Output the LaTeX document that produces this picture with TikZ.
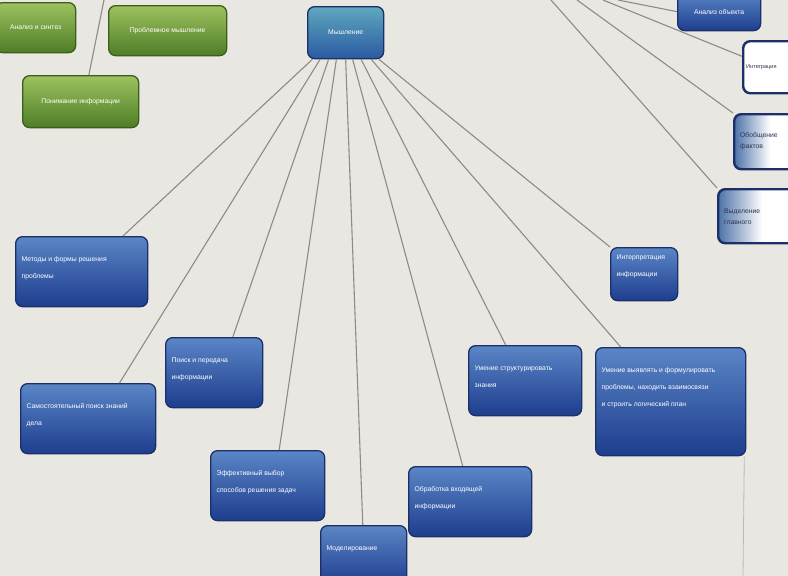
\documentclass[tikz,border=0pt]{standalone}
\usepackage{fontspec}
\setmainfont{Liberation Sans}
\usetikzlibrary{calc}
\definecolor{bg}{HTML}{E8E7E2}
\definecolor{btop}{HTML}{5A86C6}
\definecolor{bbot}{HTML}{1E3D8E}
\definecolor{bdark}{HTML}{1C2F66}
\definecolor{gtopc}{HTML}{9DC25E}
\definecolor{gbotc}{HTML}{4E7D27}
\definecolor{gdark}{HTML}{3C5E1E}
\definecolor{ctop}{HTML}{5FA8BE}
\definecolor{cbot}{HTML}{2A5AA2}
\definecolor{linec}{HTML}{8C8C84}
\definecolor{rtext}{HTML}{2E3650}
\newcommand{\mmtxt}[4]{\parbox[c][#2pt][t]{#1pt}{\raggedright\vspace*{#3pt}#4}}
\tikzset{
  box/.style={rounded corners=7pt, line width=1.3pt, text=white, inner xsep=6pt,
    inner ysep=6pt, anchor=north west, font=\fontsize{6.8}{17}\selectfont},
  bluebox/.style={box, draw=bdark, top color=btop, bottom color=bbot},
  greenbox/.style={box, draw=gdark, top color=gtopc, bottom color=gbotc, align=center},
  centerbox/.style={box, draw=bdark, top color=ctop, bottom color=cbot, align=center},
  rbox/.style={box, draw=bdark, line width=2.4pt, text=rtext, fill=white, align=left},
  rboxb/.style={rbox, left color=btop!85!black, right color=white, middle color=white},
  link/.style={draw=linec, line width=1.1pt},
  faint/.style={draw=linec!60, line width=0.8pt}
}
\begin{document}
\begin{tikzpicture}[x=1pt,y=-1pt]
\fill[bg] (0,0) rectangle (788,576);
\useasboundingbox (0,0) rectangle (788,576);

% green nodes
\node[greenbox, minimum width=80pt, minimum height=50pt] (G1) at (-5,2) {Анализ и синтез};
\node[greenbox, minimum width=118pt, minimum height=50pt] (G2) at (108,5) {Проблемное мышление};
\node[greenbox, minimum width=116pt, minimum height=52pt] (G3) at (22,75) {Понимание информации};

% centre
\node[centerbox, minimum width=76pt, minimum height=52pt] (C) at (307,6) {Мышление};

% right-hand nodes (cut off)
\node[bluebox, minimum width=83pt, minimum height=38pt, align=center] (R1) at (677,-8) {Анализ объекта};
\node[rbox, minimum width=64pt, minimum height=52pt, inner xsep=3pt, font=\fontsize{5.6}{8}\selectfont] (R2) at (742,40) {\parbox{58pt}{Интеграция}};
\node[rboxb, minimum width=72pt, minimum height=55pt] (R3) at (733,113) {\parbox{60pt}{\fontsize{6.8}{11}\selectfont Обобщение\\фактов}};
\node[rboxb, minimum width=88pt, minimum height=54pt] (R4) at (717,188) {\parbox{76pt}{\fontsize{6.8}{11}\selectfont Выделение\\главного}};

% blue nodes
\node[bluebox] (S) at (610,247) {\mmtxt{55}{41}{1}{Интерпретация\\информации}};
\node[bluebox] (L1) at (15,236) {\mmtxt{120}{58}{14}{Методы и формы решения\\проблемы}};
\node[bluebox] (M1) at (165,337) {\mmtxt{85}{58}{14}{Поиск и передача\\информации}};
\node[bluebox] (L3) at (20,383) {\mmtxt{123}{58}{14}{Самостоятельный поиск знаний\\дела}};
\node[bluebox] (M2) at (210,450) {\mmtxt{102}{58}{14}{Эффективный выбор\\способов решения задач}};
\node[bluebox] (B) at (320,525) {\mmtxt{74}{48}{14}{Моделирование}};
\node[bluebox] (M3) at (408,466) {\mmtxt{111}{58}{14}{Обработка входящей\\информации}};
\node[bluebox] (M4) at (468,345) {\mmtxt{101}{58}{14}{Умение структурировать\\знания}};
\node[bluebox] (M5) at (595,347) {\mmtxt{138}{96}{14}{Умение выявлять и формулировать\\проблемы, находить взаимосвязи\\и строить логический план}};

% fan of connectors from the centre
\path[link] ($(C.south west)!0.07!(C.south east)$) -- ($(L1.north west)!0.81!(L1.north east)$);
\path[link] ($(C.south west)!0.17!(C.south east)$) -- ($(L3.north west)!0.73!(L3.north east)$);
\path[link] ($(C.south west)!0.28!(C.south east)$) -- ($(M1.north west)!0.69!(M1.north east)$);
\path[link] ($(C.south west)!0.38!(C.south east)$) -- ($(M2.north west)!0.60!(M2.north east)$);
\path[link] ($(C.south west)!0.50!(C.south east)$) -- ($(B.north west)!0.49!(B.north east)$);
\path[link] ($(C.south west)!0.59!(C.south east)$) -- ($(M3.north west)!0.44!(M3.north east)$);
\path[link] ($(C.south west)!0.70!(C.south east)$) -- ($(M4.north west)!0.33!(M4.north east)$);
\path[link] ($(C.south west)!0.83!(C.south east)$) -- ($(M5.north west)!0.17!(M5.north east)$);
\path[link] ($(C.south west)!0.93!(C.south east)$) -- (S.north west);

% connectors entering from the top edge
\coordinate (tg) at (104,0);
\coordinate (tr1) at (618,0);
\coordinate (tr2) at (603,0);
\coordinate (tr3) at (577,0);
\coordinate (tr4) at (551,0);
\path[link] (tg) -- ($(G3.north west)!0.57!(G3.north east)$);
\path[link] (tr1) -- (R1.west);
\path[link] (tr2) -- ($(R2.north west)!0.3!(R2.south west)$);
\path[link] (tr3) -- (R3.north west);
\path[link] (tr4) -- (R4.north west);

% faint vertical line under the right box
\coordinate (vb) at (743,576);
\path[faint] ($(M5.south east)+(-2,0)$) -- (vb);
\end{tikzpicture}
\end{document}
